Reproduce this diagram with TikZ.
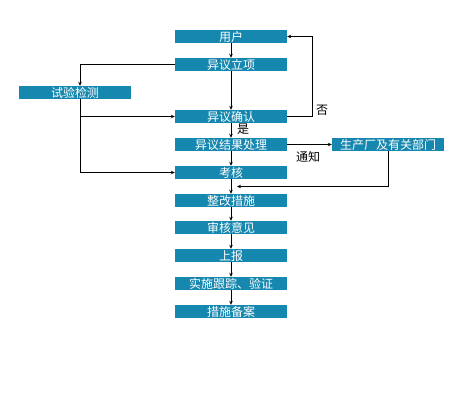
\documentclass[tikz,border=0pt]{standalone}
\usepackage{fontspec}
\newfontfamily\cjk{Noto Sans CJK SC}
\usetikzlibrary{calc,arrows.meta}
\definecolor{boxblue}{RGB}{22,135,175}
\tikzset{
  box/.style={fill=boxblue, text=white, font=\cjk\fontsize{12}{12}\selectfont,
    minimum width=112pt, minimum height=13pt, inner sep=0pt},
  arr/.style={-{Stealth[length=4pt,width=3.5pt]}, line width=0.8pt},
  lbl/.style={font=\cjk\fontsize{12}{12}\selectfont, inner sep=0pt}
}

\begin{document}
\begin{tikzpicture}[x=1pt,y=-1pt]
			%%%%% START %%%%%
			\useasboundingbox[fill=white] (0,0) rectangle (456,400);
			
			\node[box] (yonghu) at (231,36.5) {用户};
			\node[box] (lixiang) at (231,64.5) {异议立项};
			\node[box] (jiance) at (75,92.5) {试验检测};
			\node[box] (queren) at (231,116.5) {异议确认};
			\node[box] (chuli) at (231,144.5) {异议结果处理};
			\node[box] (changjia) at (388,144.5) {生产厂及有关部门};
			\node[box] (kaohe) at (231,172.5) {考核};
			\node[box] (zhenggai) at (231,200.5) {整改措施};
			\node[box] (shenhe) at (231,227.5) {审核意见};
			\node[box] (shangbao) at (231,255.5) {上报};
			\node[box] (genzong) at (231,283.5) {实施跟踪、验证};
			\node[box] (beian) at (231,311.5) {措施备案};
			
			% main line
			\draw[arr] (yonghu) -- (lixiang);
			\draw[arr] (lixiang) -- (queren);
			\draw[arr] (queren) -- (chuli);
			\draw[arr] (chuli) -- (kaohe);
			\draw[arr] (kaohe) -- (zhenggai);
			\draw[arr] (zhenggai) -- (shenhe);
			\draw[arr] (shenhe) -- (shangbao);
			\draw[arr] (shangbao) -- (genzong);
			\draw[arr] (genzong) -- (beian);
			
			% test branch
			\draw[arr] (lixiang.west) -| ([xshift=5]jiance.north);
			\draw[arr] ([xshift=5]jiance.south) |- (queren.west);
			\draw[arr] ([xshift=5]jiance.south) |- (kaohe.west);
			
			% loop back
			\draw[arr] (queren.east) -- ++(25,0) |- (yonghu.east);
			\node[lbl] (fou) at (322,110) {否};
			\node[lbl] (shi) at (243,129) {是};
			
			% notify
			\draw[arr] (chuli.east) -- (changjia.west);
			\node[lbl] (tongzhi) at (308,157) {通知};
			\draw[arr] (changjia.south) |- ($(kaohe.south)!0.5!(zhenggai.north)+(6,0)$);
			
			%%%%% END %%%%%
\end{tikzpicture}
\end{document}
